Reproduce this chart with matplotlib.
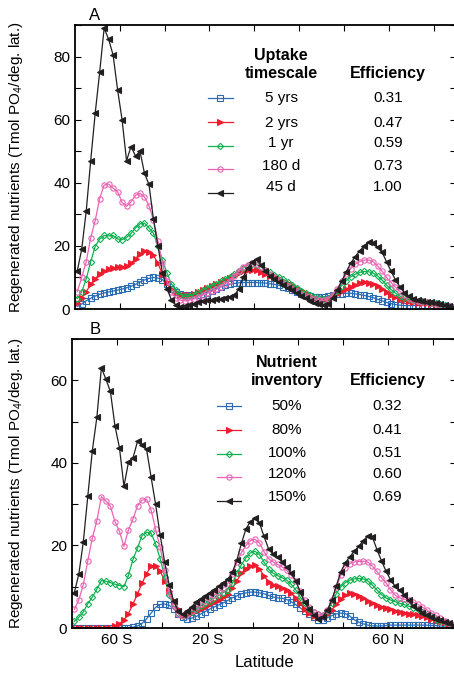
#!/usr/bin/env python3
"""Regenerated nutrients vs latitude for uptake timescale (A) and nutrient inventory (B) runs."""

import matplotlib

matplotlib.use("Agg")
import matplotlib.pyplot as plt
import numpy as np
from matplotlib.ticker import FixedLocator, FuncFormatter, MultipleLocator

plt.rcParams["font.family"] = ["Liberation Sans", "DejaVu Sans"]
plt.rcParams["mathtext.fontset"] = "custom"
plt.rcParams["mathtext.rm"] = "Liberation Sans"
plt.rcParams["mathtext.it"] = "Liberation Sans:italic"

# model latitude grid (2 degree bands, centred on odd latitudes)
lat = np.arange(-79, 90, 2)

# ---- panel A: uptake timescale ----
a_labels = ["5 yrs", "2 yrs", "1 yr", "180 d", "45 d"]
a_eff = ["0.31", "0.47", "0.59", "0.73", "1.00"]
a_5yr = [
    0.8, 1.6, 2.6, 3.4, 4.1, 4.7, 5.1, 5.4, 5.7, 6.0,
    6.3, 6.7, 7.2, 7.8, 8.5, 9.2, 9.7, 10.0, 9.8, 9.3,
    7.8, 6.5, 5.5, 4.9, 4.5, 4.4, 4.4, 4.5, 4.8, 5.2,
    5.8, 6.4, 7.0, 7.5, 7.8, 8.1, 8.3, 8.4, 8.4, 8.4,
    8.4, 8.3, 8.2, 8.0, 7.8, 7.5, 7.1, 6.6, 6.0, 5.4,
    4.9, 4.4, 4.1, 3.9, 3.8, 3.9, 4.1, 4.4, 4.7, 4.9,
    5.0, 5.0, 4.8, 4.6, 4.3, 4.0, 3.6, 3.1, 2.6, 2.1,
    1.7, 1.4, 1.2, 1.1, 1.1, 1.1, 1.2, 1.2, 1.2, 1.2,
    1.1, 1.0, 0.9, 0.7, 0.5,
]
a_2yr = [
    2.0, 3.5, 5.5, 7.8, 9.5, 11.2, 12.0, 12.6, 13.0, 13.2,
    13.3, 13.6, 14.5, 16.0, 17.5, 18.5, 18.0, 17.0, 14.5, 11.0,
    8.5, 6.5, 5.3, 4.6, 4.5, 4.6, 4.9, 5.4, 6.0, 6.7,
    7.3, 7.9, 8.5, 9.1, 9.8, 10.5, 11.3, 12.0, 12.4, 12.5,
    12.3, 11.8, 11.2, 10.6, 10.1, 9.6, 9.0, 8.3, 7.6, 6.8,
    5.9, 5.0, 4.2, 3.4, 2.9, 2.8, 3.1, 3.9, 4.8, 5.6,
    6.3, 7.0, 7.6, 8.2, 8.5, 8.4, 7.9, 7.2, 6.4, 5.4,
    4.5, 3.7, 3.1, 2.7, 2.4, 2.2, 2.0, 1.9, 1.8, 1.7,
    1.5, 1.3, 1.1, 0.8, 0.6,
]
a_1yr = [
    3.3, 5.5, 9.5, 15.0, 19.8, 22.2, 23.3, 23.2, 23.3, 22.2,
    22.0, 22.7, 24.0, 25.7, 27.0, 27.2, 25.7, 24.0, 20.0, 15.5,
    11.5, 8.0, 6.0, 4.6, 4.0, 4.2, 4.6, 5.3, 6.0, 6.7,
    7.3, 8.0, 8.8, 9.6, 10.3, 11.1, 12.0, 13.0, 13.9, 14.4,
    14.1, 13.3, 12.4, 11.6, 10.9, 10.2, 9.4, 8.5, 7.6, 6.7,
    5.8, 5.0, 4.3, 3.7, 3.4, 3.3, 3.5, 4.5, 5.8, 7.4,
    9.0, 10.2, 11.0, 11.6, 11.9, 11.8, 11.4, 10.5, 9.2, 7.6,
    6.2, 5.0, 4.1, 3.5, 3.1, 2.8, 2.6, 2.4, 2.2, 2.0,
    1.8, 1.5, 1.2, 0.9, 0.6,
]
a_180d = [
    5.5, 10.0, 15.0, 22.5, 28.0, 35.0, 39.3, 39.6, 38.3, 37.2,
    33.8, 32.5, 34.0, 36.0, 36.7, 35.5, 32.7, 28.3, 21.5, 14.5,
    9.0, 5.3, 3.5, 2.8, 2.6, 2.8, 3.2, 3.8, 4.4, 5.0,
    5.6, 6.2, 7.0, 8.0, 9.0, 10.5, 12.0, 13.3, 14.1, 14.5,
    14.3, 13.4, 12.3, 11.2, 10.2, 9.2, 8.3, 7.4, 6.5, 5.7,
    4.9, 4.2, 3.6, 3.1, 2.8, 2.8, 3.2, 4.5, 6.5, 8.8,
    11.0, 12.8, 14.2, 15.0, 15.5, 15.5, 15.0, 13.7, 12.0, 10.0,
    8.4, 6.9, 5.6, 4.5, 3.6, 3.0, 2.6, 2.3, 2.1, 1.9,
    1.7, 1.4, 1.1, 0.8, 0.5,
]
a_45d = [
    12.0, 19.0, 31.0, 47.0, 62.0, 75.0, 89.0, 85.5, 80.5, 69.5,
    60.0, 47.0, 51.5, 48.5, 50.0, 43.0, 39.5, 28.5, 20.0, 11.5,
    6.5, 3.0, 1.3, 0.6, 0.8, 1.2, 1.5, 2.1, 2.4, 2.7,
    2.9, 3.1, 3.3, 3.6, 3.8, 4.3, 6.2, 10.0, 13.0, 14.8,
    15.7, 14.0, 12.0, 10.5, 9.4, 8.5, 7.6, 6.8, 6.0, 5.0,
    4.2, 3.4, 2.6, 2.0, 1.5, 1.2, 1.6, 3.5, 6.0, 8.8,
    11.8, 14.5, 16.6, 18.4, 20.0, 21.2, 20.8, 19.6, 18.0, 15.0,
    12.0, 9.2, 7.0, 5.2, 4.0, 3.2, 2.8, 2.5, 2.3, 2.1,
    1.9, 1.6, 1.2, 0.8, 0.5,
]

# ---- panel B: nutrient inventory ----
b_labels = ["50%", "80%", "100%", "120%", "150%"]
b_eff = ["0.32", "0.41", "0.51", "0.60", "0.69"]
b_50 = [
    0.1, 0.1, 0.1, 0.1, 0.1, 0.1, 0.1, 0.1, 0.1, 0.1,
    0.1, 0.1, 0.1, 0.2, 0.5, 1.1, 2.2, 3.6, 5.0, 5.7,
    5.8, 5.5, 4.7, 3.5, 2.6, 2.2, 2.4, 2.8, 3.4, 4.0,
    4.6, 5.1, 5.6, 6.1, 6.7, 7.3, 7.8, 8.3, 8.5, 8.7,
    8.7, 8.5, 8.3, 7.9, 7.5, 7.3, 7.2, 6.9, 6.4, 5.7,
    4.9, 4.1, 3.3, 2.6, 2.0, 2.0, 2.5, 3.0, 3.4, 3.6,
    3.5, 2.9, 2.0, 1.4, 1.0, 0.7, 0.5, 0.5, 0.5, 0.6,
    0.7, 0.7, 0.7, 0.7, 0.7, 0.7, 0.7, 0.7, 0.7, 0.6,
    0.6, 0.5, 0.5, 0.4, 0.3,
]
b_80 = [
    0.1, 0.1, 0.1, 0.1, 0.1, 0.1, 0.1, 0.1, 0.1, 0.4,
    1.0, 2.0, 3.5, 5.8, 8.3, 10.8, 13.2, 15.0, 15.0, 13.8,
    11.5, 9.0, 6.5, 4.5, 3.2, 3.1, 3.6, 4.2, 4.7, 5.2,
    5.7, 6.2, 6.8, 7.5, 8.3, 9.6, 11.4, 13.3, 14.4, 15.0,
    15.2, 14.3, 12.6, 11.2, 10.4, 10.1, 9.7, 9.2, 8.4, 7.3,
    6.0, 4.7, 3.6, 2.9, 2.7, 2.8, 3.5, 4.4, 5.7, 7.0,
    7.9, 8.4, 8.3, 7.8, 7.2, 6.6, 6.0, 5.5, 5.1, 4.8,
    4.5, 4.2, 3.9, 3.7, 3.5, 3.3, 3.1, 2.9, 2.6, 2.3,
    2.0, 1.7, 1.4, 1.0, 0.7,
]
b_100 = [
    1.6, 2.6, 3.9, 5.9, 7.5, 9.4, 11.5, 11.3, 11.0, 10.6,
    10.3, 10.0, 12.8, 16.6, 19.4, 22.4, 23.2, 23.0, 20.4, 16.8,
    12.4, 8.0, 5.3, 3.6, 3.0, 3.3, 3.9, 4.6, 5.4, 6.0,
    6.6, 7.2, 7.9, 8.6, 9.3, 10.8, 13.3, 15.3, 17.0, 18.2,
    18.6, 17.8, 16.0, 14.3, 13.3, 12.7, 12.2, 11.6, 10.6, 9.3,
    7.5, 6.0, 4.7, 3.8, 3.3, 3.2, 4.2, 6.0, 8.3, 10.0,
    11.0, 11.6, 11.9, 12.0, 11.9, 11.4, 10.4, 9.2, 8.1, 7.3,
    6.8, 6.4, 6.0, 5.7, 5.3, 4.9, 4.5, 4.0, 3.4, 2.8,
    2.3, 1.8, 1.4, 1.0, 0.7,
]
b_120 = [
    4.5, 6.8, 10.5, 16.3, 21.8, 26.0, 31.8, 30.8, 29.5, 25.8,
    23.4, 19.8, 23.8, 26.4, 29.6, 31.0, 31.2, 28.6, 24.0, 19.6,
    14.0, 8.5, 5.3, 3.5, 2.8, 3.4, 4.2, 5.0, 5.8, 6.6,
    7.3, 8.0, 8.8, 9.7, 10.8, 13.0, 16.0, 18.3, 20.0, 21.2,
    21.5, 20.6, 18.5, 16.8, 16.0, 15.4, 14.8, 14.0, 12.9, 11.3,
    9.0, 6.8, 5.0, 3.9, 3.3, 3.1, 4.3, 6.8, 9.9, 12.8,
    14.6, 15.6, 16.0, 16.1, 16.2, 16.0, 15.0, 13.7, 12.2, 11.0,
    9.3, 8.0, 7.3, 7.0, 6.8, 6.3, 5.8, 5.1, 4.4, 3.7,
    3.1, 2.4, 1.8, 1.2, 0.8,
]
b_150 = [
    8.5, 13.0, 20.8, 32.0, 43.0, 51.0, 63.0, 60.3, 57.3, 49.0,
    43.7, 34.3, 40.2, 41.2, 45.2, 44.3, 43.3, 36.6, 30.0, 22.6,
    16.0, 10.5, 6.5, 4.2, 3.3, 4.2, 5.2, 6.3, 7.1, 7.8,
    8.6, 9.3, 10.1, 10.9, 11.8, 13.5, 16.5, 20.5, 24.0, 25.8,
    26.6, 25.4, 22.2, 19.2, 17.9, 17.2, 16.1, 14.8, 13.3, 11.5,
    8.8, 6.2, 4.5, 3.2, 2.3, 2.7, 4.3, 6.7, 10.2, 13.6,
    15.8, 17.3, 18.6, 19.8, 21.2, 22.3, 22.0, 19.0, 16.3, 13.8,
    11.7, 10.2, 9.2, 8.0, 6.7, 5.4, 4.5, 3.7, 3.1, 2.6,
    2.2, 1.9, 1.5, 1.1, 0.8,
]

COLORS = ["#2a6db5", "#ee1c2e", "#10b050", "#ea64b4", "#231f20"]
MARKERS = ["s", ">", "D", "o", "<"]
FILLED = [False, True, False, False, True]
XTICK_NAMES = {-60: "60 S", -20: "20 S", 20: "20 N", 60: "60 N"}
YLABEL = "Regenerated nutrients (Tmol PO$_4$/deg. lat.)"


def style_axes(ax, ymax, show_xlabels, ylabel_x):
    ax.set_xlim(-80, 90)
    ax.set_ylim(0, ymax)
    ax.xaxis.set_major_locator(FixedLocator(np.arange(-60, 90, 20)))
    if show_xlabels:
        ax.xaxis.set_major_formatter(FuncFormatter(lambda v, p: XTICK_NAMES.get(int(round(v)), "")))
    else:
        ax.set_xticklabels([])
    ax.yaxis.set_major_locator(MultipleLocator(20))
    ax.yaxis.set_minor_locator(MultipleLocator(10))
    ax.tick_params(which="both", direction="in", top=True, right=True, length=4, width=0.8, labelsize=11)
    for side in ax.spines.values():
        side.set_linewidth(1.3)
    ax.set_ylabel(YLABEL, fontsize=11)
    ax.yaxis.set_label_coords(ylabel_x, 0.5)


def draw_panel(ax, series, labels, effs, header, legend_x, rows_y, head_y, eff_y, text_x):
    lines = []
    for vals, c, m, filled in zip(series, COLORS, MARKERS, FILLED):
        (ln,) = ax.plot(
            lat, vals, color=c, marker=m, markersize=3.8 if m != "D" else 3.2,
            markerfacecolor=c if filled else "none", markeredgewidth=0.8, linewidth=0.9,
        )
        lines.append(ln)
    ax.legend(
        lines, [""] * len(lines), loc="upper center",
        bbox_to_anchor=(legend_x, rows_y[0] + 0.045), frameon=False,
        handlelength=1.7, handletextpad=0.0, labelspacing=0.66, fontsize=10.5,
        borderpad=0, numpoints=1,
    )
    for y, lab, eff in zip(rows_y, labels, effs):
        ax.text(text_x, y, lab, transform=ax.transAxes, ha="center", va="center", fontsize=11)
        ax.text(0.822, y, eff, transform=ax.transAxes, ha="center", va="center", fontsize=11)
    ax.text(text_x, head_y, header, transform=ax.transAxes, ha="center", va="center",
            fontsize=11.5, fontweight="bold", linespacing=1.25)
    ax.text(0.822, eff_y, "Efficiency", transform=ax.transAxes, ha="center", va="center",
            fontsize=11.5, fontweight="bold")


def main():
    fig = plt.figure(figsize=(4.54, 6.75), dpi=100)
    ax_a = fig.add_axes([0.1652, 0.5422, 0.8392, 0.4207])
    ax_b = fig.add_axes([0.1586, 0.0696, 0.8458, 0.4281])

    draw_panel(
        ax_a, [a_5yr, a_2yr, a_1yr, a_180d, a_45d], a_labels, a_eff, "Uptake\ntimescale",
        0.381, [0.743, 0.655, 0.585, 0.504, 0.430], 0.861, 0.831, 0.541,
    )
    style_axes(ax_a, 90, False, -0.131)

    draw_panel(
        ax_b, [b_50, b_80, b_100, b_120, b_150], b_labels, b_eff, "Nutrient\ninventory",
        0.409, [0.768, 0.685, 0.606, 0.533, 0.453], 0.886, 0.858, 0.560,
    )
    style_axes(ax_b, 70, True, -0.122)
    ax_b.set_xlabel("Latitude", fontsize=12, labelpad=6)

    fig.text(95 / 454, 1 - 15 / 675, "A", fontsize=12, ha="center", va="center")
    fig.text(95 / 454, 1 - 329 / 675, "B", fontsize=12, ha="center", va="center")

    fig.savefig("out.png", dpi=100)


if __name__ == "__main__":
    main()
